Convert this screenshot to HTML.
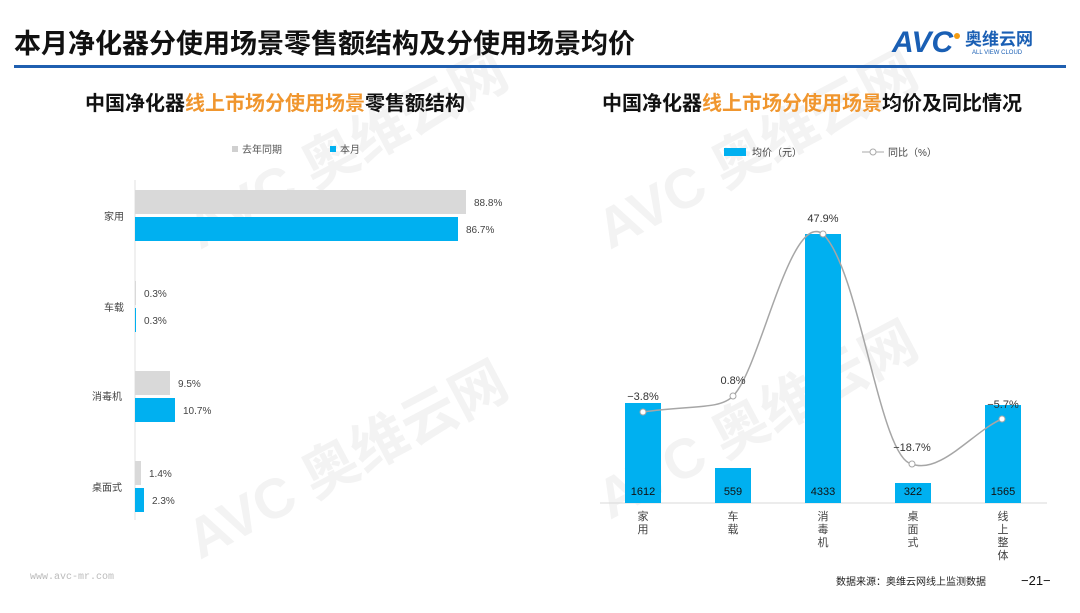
<!DOCTYPE html>
<html><head><meta charset="utf-8"><style>
body{margin:0;width:1080px;height:608px;background:#fff;overflow:hidden;font-family:"Liberation Sans","Noto Sans CJK SC",sans-serif;}
</style></head><body>
<svg width="1080" height="608" xmlns="http://www.w3.org/2000/svg" font-family="Liberation Sans, Noto Sans CJK SC, sans-serif">
<g fill="#f3f3f3" font-weight="bold">
<text x="200" y="250" font-size="56" transform="rotate(-28 200 250)">AVC 奥维云网</text>
<text x="610" y="250" font-size="56" transform="rotate(-28 610 250)">AVC 奥维云网</text>
<text x="200" y="560" font-size="56" transform="rotate(-28 200 560)">AVC 奥维云网</text>
<text x="610" y="520" font-size="56" transform="rotate(-28 610 520)">AVC 奥维云网</text>
</g>
<text x="14" y="53" font-size="27" font-weight="bold" fill="#111">本月净化器分使用场景零售额结构及分使用场景均价</text>
<text x="892" y="52" font-size="30" font-weight="bold" fill="#1a5fb4" font-style="italic">AVC</text>
<circle cx="957" cy="36" r="3" fill="#f39c12"/>
<text x="965" y="45" font-size="17" font-weight="bold" fill="#1a5fb4">奥维云网</text>
<text x="972" y="54" font-size="6" fill="#1a5fb4">ALL VIEW CLOUD</text>
<rect x="14" y="65" width="1052" height="3" fill="#1f5fb0"/>
<text x="85" y="110" font-size="20" font-weight="bold" fill="#111">中国净化器<tspan fill="#f0962e">线上市场分使用场景</tspan>零售额结构</text>
<text x="602" y="110" font-size="20" font-weight="bold" fill="#111">中国净化器<tspan fill="#f0962e">线上市场分使用场景</tspan>均价及同比情况</text>
<rect x="232" y="146" width="6" height="6" fill="#d0d0d0"/><text x="242" y="153" font-size="10" fill="#555">去年同期</text>
<rect x="330" y="146" width="6" height="6" fill="#00b0f0"/><text x="340" y="153" font-size="10" fill="#555">本月</text>
<line x1="135" y1="180" x2="135" y2="520" stroke="#e0e0e0"/>
<g font-size="10" fill="#444">
<rect x="135" y="190" width="331" height="24" fill="#d9d9d9"/><rect x="135" y="217" width="323" height="24" fill="#00b0f0"/>
<text x="474" y="206">88.8%</text><text x="466" y="233">86.7%</text><text x="104" y="220">家用</text>
<rect x="135" y="281" width="1" height="24" fill="#d9d9d9"/><rect x="135" y="308" width="1" height="24" fill="#00b0f0"/>
<text x="144" y="297">0.3%</text><text x="144" y="324">0.3%</text><text x="104" y="311">车载</text>
<rect x="135" y="371" width="35" height="24" fill="#d9d9d9"/><rect x="135" y="398" width="40" height="24" fill="#00b0f0"/>
<text x="178" y="387">9.5%</text><text x="183" y="414">10.7%</text><text x="92" y="400">消毒机</text>
<rect x="135" y="461" width="6" height="24" fill="#d9d9d9"/><rect x="135" y="488" width="9" height="24" fill="#00b0f0"/>
<text x="149" y="477">1.4%</text><text x="152" y="504">2.3%</text><text x="92" y="491">桌面式</text>
</g>
<rect x="724" y="148" width="22" height="8" fill="#00b0f0"/><text x="752" y="156" font-size="10" fill="#444">均价（元）</text>
<line x1="862" y1="152" x2="884" y2="152" stroke="#aaa"/><circle cx="873" cy="152" r="3" fill="#fff" stroke="#aaa"/><text x="888" y="156" font-size="10" fill="#444">同比（%）</text>
<line x1="600" y1="503" x2="1047" y2="503" stroke="#d9d9d9"/>
<g fill="#00b0f0">
<rect x="625" y="403" width="36" height="100"/><rect x="715" y="468" width="36" height="35"/><rect x="805" y="234" width="36" height="269"/><rect x="895" y="483" width="36" height="20"/><rect x="985" y="405" width="36" height="98"/>
</g>
<g font-size="11" fill="#111" text-anchor="middle">
<text x="643" y="495">1612</text><text x="733" y="495">559</text><text x="823" y="495">4333</text><text x="913" y="495">322</text><text x="1003" y="495">1565</text>
</g>
<path d="M643,412 C690,405 720,410 733,396 C760,370 790,210 823,234 C860,270 880,460 912,464 C940,475 975,430 1002,419" fill="none" stroke="#a6a6a6" stroke-width="1.5"/>
<g fill="#fff" stroke="#a6a6a6"><circle cx="643" cy="412" r="3"/><circle cx="733" cy="396" r="3"/><circle cx="823" cy="234" r="3"/><circle cx="912" cy="464" r="3"/><circle cx="1002" cy="419" r="3"/></g>
<g font-size="11" fill="#333" text-anchor="middle">
<text x="643" y="400">−3.8%</text><text x="733" y="384">0.8%</text><text x="823" y="222">47.9%</text><text x="912" y="451">−18.7%</text><text x="1003" y="408">−5.7%</text>
</g>
<g font-size="11" fill="#444" text-anchor="middle">
<text x="643" y="520">家</text><text x="643" y="533">用</text>
<text x="733" y="520">车</text><text x="733" y="533">载</text>
<text x="823" y="520">消</text><text x="823" y="533">毒</text><text x="823" y="546">机</text>
<text x="913" y="520">桌</text><text x="913" y="533">面</text><text x="913" y="546">式</text>
<text x="1003" y="520">线</text><text x="1003" y="533">上</text><text x="1003" y="546">整</text><text x="1003" y="559">体</text>
</g>
<text x="30" y="579" font-size="10" fill="#bbb" font-family="Liberation Mono, monospace">www.avc-mr.com</text>
<text x="836" y="585" font-size="10" fill="#222">数据来源：奥维云网线上监测数据</text>
<text x="1021" y="585" font-size="13" fill="#111">−21−</text>
</svg>
</body></html>
